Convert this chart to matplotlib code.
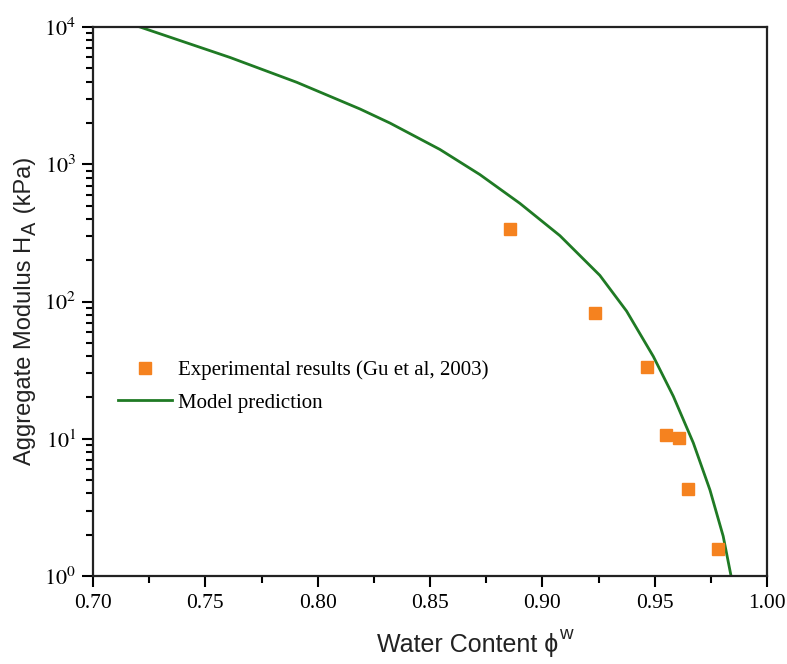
import math
import matplotlib
matplotlib.use("Agg")
import matplotlib.pyplot as plt
from matplotlib.ticker import LogLocator, FixedLocator, FuncFormatter, NullFormatter

# Data
exp_x = [0.8856, 0.9234, 0.9466, 0.9550, 0.9608, 0.9648, 0.9780]
exp_y = [338, 82.6, 33.4, 10.7, 10.1, 4.3, 1.57]

model_x = [0.7209, 0.7610, 0.7907, 0.8188, 0.8322, 0.8544, 0.8722, 0.8900,
           0.9078, 0.9256, 0.9375, 0.9494, 0.9583, 0.9672, 0.9746, 0.9805, 0.9840]
model_y = [10000, 5998, 3954, 2529, 1995, 1282, 841, 519,
           302, 155, 85.1, 39.8, 20.4, 9.33, 4.24, 1.95, 1.0]

xticks = [0.70, 0.75, 0.80, 0.85, 0.90, 0.95, 1.00]
xtick_labels = ["0.70", "0.75", "0.80", "0.85", "0.90", "0.95", "1.00"]
xminor = [0.725, 0.775, 0.825, 0.875, 0.925, 0.975]

plt.rcParams['mathtext.fontset'] = 'stix'
plt.rcParams['font.family'] = ['Liberation Serif', 'DejaVu Serif']

W, H = 787, 664
fig = plt.figure(figsize=(W / 100, H / 100), dpi=100)
ax = fig.add_axes([93 / W, (H - 576) / H, (767 - 93) / W, (576 - 27) / H])

ax.plot(model_x, model_y, color='#1f7a24', lw=2.0, label='Model prediction', zorder=2)
ax.plot(exp_x, exp_y, ls='none', marker='s', ms=8.5, color='#f5821f',
        mec='#f5821f', label='Experimental results (Gu et al, 2003)', zorder=3)

ax.set_yscale('log')
ax.set_xlim(0.70, 1.00)
ax.set_ylim(1, 1e4)

ax.set_xticks(xticks)
ax.set_xticklabels(xtick_labels, fontsize=15.5)
ax.xaxis.set_minor_locator(FixedLocator(xminor))

ax.yaxis.set_major_locator(LogLocator(base=10, numticks=10))
ax.yaxis.set_minor_locator(LogLocator(base=10, subs=range(2, 10), numticks=50))
ax.yaxis.set_major_formatter(FuncFormatter(lambda v, p: r'$10^{%d}$' % round(math.log10(v))))
ax.yaxis.set_minor_formatter(NullFormatter())
ax.tick_params(axis='y', labelsize=16, pad=4)
ax.tick_params(axis='x', pad=5)

ax.tick_params(which='major', direction='out', length=8, width=1.5, top=False, right=False)
ax.tick_params(which='minor', direction='out', length=5, width=1.5, top=False, right=False)
for s in ax.spines.values():
    s.set_linewidth(1.6)
    s.set_color('#222222')

handles, labels = ax.get_legend_handles_labels()
leg = ax.legend(handles[::-1], labels[::-1], loc='center left', bbox_to_anchor=(0.037, 0.345),
                frameon=False, borderaxespad=0, borderpad=0, handlelength=2.6,
                handletextpad=0.3, labelspacing=0.6,
                prop={'family': 'Liberation Serif', 'size': 15})

# Axis labels built from pieces (large subscript / superscript as in the reference)
renderer = fig.canvas.get_renderer()
lab_font = dict(family=['Liberation Sans', 'DejaVu Sans'], color='#222222')
LS = 17

# Y label: "Aggregate Modulus H" + "A" (lowered) + " (kPa)"
x0, y0 = 31, H - 465
t1 = fig.text(x0 / W, y0 / H, 'Aggregate Modulus H', rotation=90, rotation_mode='anchor',
              ha='left', va='baseline', fontsize=LS, **lab_font)
e1 = t1.get_window_extent(renderer)
t2 = fig.text((x0 + 5) / W, (e1.y1 + 1) / H, 'A', rotation=90, rotation_mode='anchor',
              ha='left', va='baseline', fontsize=LS * 0.85, **lab_font)
e2 = t2.get_window_extent(renderer)
t3 = fig.text(x0 / W, (e2.y1 + 1) / H, ' (kPa)', rotation=90, rotation_mode='anchor',
              ha='left', va='baseline', fontsize=LS, **lab_font)

# X label: "Water Content ϕ" + superscript "w"
bx, by = 377, H - 652
s1 = fig.text(bx / W, by / H, 'Water Content \u03d5', ha='left', va='baseline',
              fontsize=18, **lab_font)
f1 = s1.get_window_extent(renderer)
s2 = fig.text((f1.x1 + 1) / W, (by + 13) / H, 'w', ha='left', va='baseline',
              fontsize=18 * 0.75, **lab_font)

fig.savefig('out.png', dpi=100)
